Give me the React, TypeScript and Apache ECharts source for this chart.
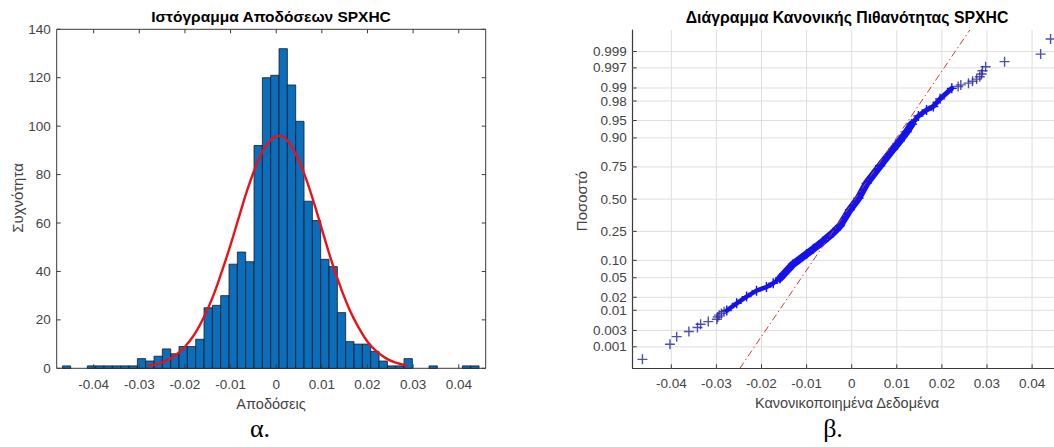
import React, { useEffect, useRef } from "react";
import * as echarts from "echarts";

// ---------- Left: histogram of returns ----------
const binStart = -0.04686;
const binWidth = 0.001826;
const histCounts = [
  1, 0, 0, 1, 1, 1, 1, 1, 1,
  4, 3, 5, 8, 6, 9, 9, 12, 25, 26, 30, 43, 48, 44, 92, 120, 121, 132, 117, 102,
  69, 61, 45, 42, 23, 11, 10, 10, 7, 3, 1, 1, 4,
  0, 0, 1, 0, 0, 0, 1, 1,
];
const fitX = [
  -0.0281, -0.026, -0.024, -0.022, -0.02, -0.018, -0.016, -0.014, -0.012, -0.01,
  -0.008, -0.006, -0.004, -0.002, 0.0005, 0.002, 0.004, 0.006, 0.008, 0.01, 0.012,
  0.014, 0.016, 0.018, 0.02, 0.022, 0.024, 0.026, 0.0287,
];
const fitY = [
  1.0, 1.8, 3.2, 5.5, 8.9, 13.8, 20.6, 29, 39.5, 51, 63.5, 75.5, 85.5, 92.5, 96,
  95, 89.5, 81, 70, 57.5, 45, 34, 24.5, 17, 11, 7, 4.2, 2.4, 1.1,
];
const leftXTicks = [-0.04, -0.03, -0.02, -0.01, 0, 0.01, 0.02, 0.03, 0.04];
const leftYTicks = [0, 20, 40, 60, 80, 100, 120, 140];
const leftXRange = [-0.0481, 0.0459];
const leftYRange = [0, 140];

// ---------- Right: normal probability plot ----------
const rightXTicks = [-0.04, -0.03, -0.02, -0.01, 0, 0.01, 0.02, 0.03, 0.04];
const probTicks = [0.001, 0.003, 0.01, 0.02, 0.05, 0.1, 0.25, 0.5, 0.75, 0.9, 0.95, 0.98, 0.99, 0.997, 0.999];
const probTickLabels = ["0.001", "0.003", "0.01", "0.02", "0.05", "0.10", "0.25", "0.50", "0.75", "0.90", "0.95", "0.98", "0.99", "0.997", "0.999"];
const rightXRange = [-0.04856, 0.04486];
const probRange = [0.0002, 0.9998];

const lowTailX = [-0.0464, -0.0403, -0.0388, -0.0361, -0.0342, -0.0335, -0.0318, -0.0299, -0.0297, -0.0294, -0.0289, -0.0283];
const lowTailP = [0.0004, 0.0012, 0.002, 0.0028, 0.0036, 0.0044, 0.0052, 0.006, 0.0068, 0.0076, 0.0084, 0.0092];
const highTailX = [0.0441, 0.0419, 0.0339, 0.0297, 0.029, 0.0288, 0.0284, 0.0277, 0.0268, 0.0259, 0.0242, 0.0236];
const highTailP = [0.9996, 0.9988, 0.998, 0.9972, 0.9964, 0.9956, 0.9948, 0.994, 0.9932, 0.9924, 0.9916, 0.9908];
// lower band, dense middle and upper band of the sorted data
const lowBandX = [-0.0277, -0.0255, -0.0233, -0.0211, -0.0189, -0.0174, -0.0159];
const lowBandP = [0.0099, 0.0146, 0.0207, 0.0277, 0.0329, 0.0392, 0.049];
const midBandX = [-0.0159, -0.013, -0.01, -0.0085, -0.0063, -0.0041, -0.0026, -0.0004, 0.0015, 0.0033, 0.0063, 0.0092, 0.0107, 0.0122, 0.0133];
const midBandP = [0.049, 0.0869, 0.1251, 0.1492, 0.1894, 0.242, 0.2877, 0.4129, 0.508, 0.6293, 0.758, 0.8531, 0.8888, 0.9207, 0.9418];
const highBandX = [0.0133, 0.0148, 0.0166, 0.0181, 0.0196, 0.0222];
const highBandP = [0.9418, 0.9591, 0.9689, 0.9738, 0.9821, 0.9898];
const refLineX = [-0.0248, 0.0262];
const refLineP = [0.0002, 0.9998];

// inverse standard normal CDF (probability-paper scale)
function probit(p: number): number {
  const a = [-3.969683028665376e1, 2.209460984245205e2, -2.759285104469687e2, 1.38357751867269e2, -3.066479806614716e1, 2.506628277459239];
  const b = [-5.447609879822406e1, 1.615858368580409e2, -1.556989798598866e2, 6.680131188771972e1, -1.328068155288572e1];
  const c = [-7.784894002430293e-3, -3.223964580411365e-1, -2.400758277161838, -2.549732539343734, 4.374664141464968, 2.938163982698783];
  const d = [7.784695709041462e-3, 3.224671290700398e-1, 2.445134137142996, 3.754408661907416];
  const pl = 0.02425;
  if (p < pl) {
    const q = Math.sqrt(-2 * Math.log(p));
    return (((((c[0] * q + c[1]) * q + c[2]) * q + c[3]) * q + c[4]) * q + c[5]) / ((((d[0] * q + d[1]) * q + d[2]) * q + d[3]) * q + 1);
  }
  if (p <= 1 - pl) {
    const q = p - 0.5;
    const r = q * q;
    return ((((((a[0] * r + a[1]) * r + a[2]) * r + a[3]) * r + a[4]) * r + a[5]) * q) / (((((b[0] * r + b[1]) * r + b[2]) * r + b[3]) * r + b[4]) * r + 1);
  }
  const q = Math.sqrt(-2 * Math.log(1 - p));
  return -(((((c[0] * q + c[1]) * q + c[2]) * q + c[3]) * q + c[4]) * q + c[5]) / ((((d[0] * q + d[1]) * q + d[2]) * q + d[3]) * q + 1);
}

const FONT = '"Liberation Sans", Arial, Helvetica, sans-serif';
const TICK_FONT = `13.5px ${FONT}`;
const AX = "#3a3a3a";
const LABEL_C = "#434343";
const GRID_C = "#dedede";
const PLUS = "path://M4.3,0H5.7V4.3H10V5.7H5.7V10H4.3V5.7H0V4.3H4.3Z";
const BODY_C = "#1414ea";

function fmtX(v: number) {
  return v === 0 ? "0" : v.toFixed(2);
}

function bandSeries(name: string, xs: number[], ps: number[], width: number) {
  return {
    type: "line", name, xAxisIndex: 1, yAxisIndex: 1, z: 3,
    data: xs.map((x, i) => [x, probit(ps[i])]),
    symbol: PLUS, symbolSize: 10, showSymbol: true,
    itemStyle: { color: BODY_C },
    lineStyle: { color: BODY_C, width, cap: "round", join: "round" },
  };
}

function buildOption(): any {
  const zMin = probit(probRange[0]);
  const zMax = probit(probRange[1]);
  const hiddenAxis = {
    axisLine: { show: false },
    axisTick: { show: false },
    axisLabel: { show: false },
    splitLine: { show: false },
  };
  const serif = `"Liberation Serif", "Times New Roman", serif`;
  return {
    animation: false,
    backgroundColor: "#ffffff",
    grid: [
      { left: 56.7, top: 29.3, width: 429, height: 339, show: true, borderColor: AX, borderWidth: 1, backgroundColor: "transparent" },
      { left: 632.7, top: 30, width: 421.3, height: 338.3, show: false },
    ],
    xAxis: [
      { gridIndex: 0, type: "value", min: leftXRange[0], max: leftXRange[1], ...hiddenAxis },
      {
        gridIndex: 1, type: "value", min: rightXRange[0], max: rightXRange[1], ...hiddenAxis,
        axisLine: { show: true, onZero: false, lineStyle: { color: AX, width: 1.2 } },
      },
    ],
    yAxis: [
      { gridIndex: 0, type: "value", min: leftYRange[0], max: leftYRange[1], ...hiddenAxis },
      {
        gridIndex: 1, type: "value", min: zMin, max: zMax, ...hiddenAxis,
        axisLine: { show: true, onZero: false, lineStyle: { color: AX, width: 1.2 } },
      },
    ],
    graphic: [
      { type: "text", x: 271, y: 16, style: { text: "Ιστόγραμμα Αποδόσεων SPXHC", font: `bold 15.5px ${FONT}`, fill: "#000", textAlign: "center", textVerticalAlign: "middle" } },
      { type: "text", x: 847, y: 17, style: { text: "Διάγραμμα Κανονικής Πιθανότητας SPXHC", font: `bold 15.8px ${FONT}`, fill: "#000", textAlign: "center", textVerticalAlign: "middle" } },
      { type: "text", x: 17, y: 198, rotation: Math.PI / 2, style: { text: "Συχνότητα", font: `15px ${FONT}`, fill: LABEL_C, textAlign: "center", textVerticalAlign: "middle" } },
      { type: "text", x: 271, y: 404, style: { text: "Αποδόσεις", font: `14.5px ${FONT}`, fill: LABEL_C, textAlign: "center", textVerticalAlign: "middle" } },
      { type: "text", x: 581, y: 201, rotation: Math.PI / 2, style: { text: "Ποσοστό", font: `15px ${FONT}`, fill: LABEL_C, textAlign: "center", textVerticalAlign: "middle" } },
      { type: "text", x: 847, y: 403, style: { text: "Κανονικοποιημένα Δεδομένα", font: `14.5px ${FONT}`, fill: LABEL_C, textAlign: "center", textVerticalAlign: "middle" } },
      { type: "text", x: 260, y: 428, style: { text: "α.", font: `26px ${serif}`, fill: "#000", textAlign: "center", textVerticalAlign: "middle" } },
      { type: "text", x: 833, y: 428, style: { text: "β.", font: `26px ${serif}`, fill: "#000", textAlign: "center", textVerticalAlign: "middle" } },
    ],
    series: [
      // left histogram bars
      {
        type: "custom", name: "hist", xAxisIndex: 0, yAxisIndex: 0, z: 2,
        data: histCounts.map((c, i) => [i, c]),
        encode: { x: 0, y: 1 },
        renderItem: (params: any, api: any) => {
          const i = api.value(0);
          const c = api.value(1);
          if (!c) return null;
          const x0 = binStart + i * binWidth;
          const p0 = api.coord([x0, c]);
          const p1 = api.coord([x0 + binWidth, 0]);
          return {
            type: "rect",
            shape: { x: p0[0], y: p0[1], width: p1[0] - p0[0], height: p1[1] - p0[1] },
            style: { fill: "#0b6ebd", stroke: "#1a1a1a", lineWidth: 0.8 },
          };
        },
      },
      // left fit curve
      {
        type: "line", name: "fit", xAxisIndex: 0, yAxisIndex: 0, z: 3,
        data: fitX.map((x, i) => [x, fitY[i]]),
        smooth: 0.4, showSymbol: false, symbol: "none",
        lineStyle: { color: "#e5141c", width: 2.4 },
      },
      // left x ticks + labels
      {
        type: "custom", name: "lxt", xAxisIndex: 0, yAxisIndex: 0, z: 4, clip: false,
        data: leftXTicks.map((v) => [v, 0]),
        encode: { x: 0, y: 1 },
        renderItem: (params: any, api: any) => {
          const v = api.value(0);
          const b = api.coord([v, leftYRange[0]]);
          const t = api.coord([v, leftYRange[1]]);
          return {
            type: "group",
            children: [
              { type: "line", shape: { x1: b[0], y1: b[1], x2: b[0], y2: b[1] - 4 }, style: { stroke: AX, lineWidth: 1 } },
              { type: "line", shape: { x1: t[0], y1: t[1], x2: t[0], y2: t[1] + 4 }, style: { stroke: AX, lineWidth: 1 } },
              { type: "text", x: b[0], y: b[1] + 16, style: { text: fmtX(v), font: TICK_FONT, fill: LABEL_C, textAlign: "center", textVerticalAlign: "middle" } },
            ],
          };
        },
      },
      // left y ticks + labels
      {
        type: "custom", name: "lyt", xAxisIndex: 0, yAxisIndex: 0, z: 4, clip: false,
        data: leftYTicks.map((v) => [leftXRange[0], v]),
        encode: { x: 0, y: 1 },
        renderItem: (params: any, api: any) => {
          const v = api.value(1);
          const l = api.coord([leftXRange[0], v]);
          const r = api.coord([leftXRange[1], v]);
          return {
            type: "group",
            children: [
              { type: "line", shape: { x1: l[0], y1: l[1], x2: l[0] + 4, y2: l[1] }, style: { stroke: AX, lineWidth: 1 } },
              { type: "line", shape: { x1: r[0], y1: r[1], x2: r[0] - 4, y2: r[1] }, style: { stroke: AX, lineWidth: 1 } },
              { type: "text", x: l[0] - 6, y: l[1], style: { text: String(v), font: TICK_FONT, fill: LABEL_C, textAlign: "right", textVerticalAlign: "middle" } },
            ],
          };
        },
      },
      // right x grid + ticks + labels
      {
        type: "custom", name: "rxt", xAxisIndex: 1, yAxisIndex: 1, z: 1, clip: false,
        data: rightXTicks.map((v) => [v, 0]),
        encode: { x: 0, y: 1 },
        renderItem: (params: any, api: any) => {
          const v = api.value(0);
          const b = api.coord([v, zMin]);
          const t = api.coord([v, zMax]);
          return {
            type: "group",
            children: [
              { type: "line", shape: { x1: b[0], y1: b[1], x2: t[0], y2: t[1] }, style: { stroke: GRID_C, lineWidth: 1 } },
              { type: "line", shape: { x1: b[0], y1: b[1], x2: b[0], y2: b[1] - 4 }, style: { stroke: AX, lineWidth: 1 } },
              { type: "text", x: b[0], y: b[1] + 15, style: { text: fmtX(v), font: TICK_FONT, fill: LABEL_C, textAlign: "center", textVerticalAlign: "middle" } },
            ],
          };
        },
      },
      // right probability grid + ticks + labels
      {
        type: "custom", name: "ryt", xAxisIndex: 1, yAxisIndex: 1, z: 1, clip: false,
        data: probTicks.map((p, i) => [rightXRange[0], probit(p), i]),
        encode: { x: 0, y: 1 },
        renderItem: (params: any, api: any) => {
          const z = api.value(1);
          const i = api.value(2);
          const l = api.coord([rightXRange[0], z]);
          const r = api.coord([rightXRange[1], z]);
          return {
            type: "group",
            children: [
              { type: "line", shape: { x1: l[0], y1: l[1], x2: r[0], y2: r[1] }, style: { stroke: GRID_C, lineWidth: 1 } },
              { type: "line", shape: { x1: l[0], y1: l[1], x2: l[0] + 4, y2: l[1] }, style: { stroke: AX, lineWidth: 1 } },
              { type: "text", x: l[0] - 6, y: l[1], style: { text: probTickLabels[i], font: TICK_FONT, fill: LABEL_C, textAlign: "right", textVerticalAlign: "middle" } },
            ],
          };
        },
      },
      // QQ bands
      bandSeries("lowBand", lowBandX, lowBandP, 4.5),
      bandSeries("midBand", midBandX, midBandP, 7.5),
      bandSeries("highBand", highBandX, highBandP, 5),
      // QQ tails
      {
        type: "scatter", name: "tails", xAxisIndex: 1, yAxisIndex: 1, z: 4, clip: false,
        data: [
          ...lowTailX.map((x, i) => [x, probit(lowTailP[i])]),
          ...highTailX.map((x, i) => [x, probit(highTailP[i])]),
        ],
        symbol: PLUS, symbolSize: 10,
        itemStyle: { color: "#23239a" },
      },
      // reference line
      {
        type: "line", name: "ref", xAxisIndex: 1, yAxisIndex: 1, z: 5,
        data: refLineX.map((x, i) => [x, probit(refLineP[i])]),
        symbol: "none", showSymbol: false,
        lineStyle: { color: "#c2413a", width: 1, type: [7, 3, 1.5, 3] },
      },
    ],
  };
}

export default function App() {
  const ref = useRef<HTMLDivElement>(null);
  useEffect(() => {
    if (!ref.current) return;
    const chart = echarts.init(ref.current, null, { renderer: "svg" });
    chart.setOption(buildOption());
    return () => chart.dispose();
  }, []);
  return (
    <div
      ref={ref}
      style={{ position: "fixed", left: 0, top: 0, width: 1054, height: 447, background: "#fff" }}
    />
  );
}
